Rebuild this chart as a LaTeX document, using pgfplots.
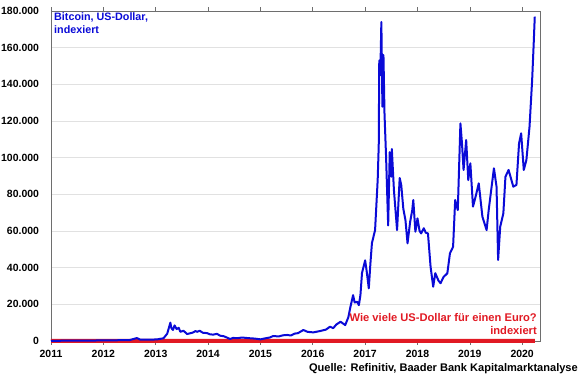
\documentclass[border=0pt]{standalone}
\usepackage{fontspec}
\setmainfont{Liberation Sans}
\usepackage{pgfplots}
\pgfplotsset{compat=1.18}
\definecolor{btcblue}{RGB}{10,10,215}
\definecolor{eurred}{RGB}{225,25,35}
\definecolor{gridgray}{RGB}{225,225,225}
\definecolor{boxgray}{RGB}{110,110,110}
\begin{document}
\begin{tikzpicture}
\path[use as bounding box] (-51bp,-34bp) rectangle (529bp,341bp);
\begin{axis}[
  scale only axis,
  width=489bp, height=330bp,
  xmin=2011, xmax=2020.34,
  ymin=0, ymax=180000,
  xtick={2011,2012,...,2020},
  ytick={0,20000,...,180000},
  scaled y ticks=false,
  clip=false,
  axis line style={boxgray, line width=0.8pt},
  ymajorgrids, grid style={gridgray, line width=0.8pt},
  tick align=outside,
  xtick style={boxgray, line width=0.6pt},
  major tick length=3.5bp,
  ytick style={draw=none},
  /pgf/number format/assume math mode=true,
  tick label style={font=\bfseries\fontsize{10.5}{12}\selectfont, text=black},
  yticklabel style={/pgf/number format/.cd, 1000 sep={.}, fixed, /tikz/xshift=-5bp},
  xticklabel style={/pgf/number format/1000 sep={}, yshift=-2bp},
]
\addplot[eurred, line width=4bp] coordinates {
(2011.00,100) (2011.5,105) (2012.0,95) (2012.5,90) (2013.0,92) (2013.5,95) (2014.0,97) (2014.5,96) (2015.0,85) (2015.5,81) (2016.0,80) (2016.5,81) (2017.0,77) (2017.5,84) (2018.0,88) (2018.5,85) (2019.0,83) (2019.5,82) (2020.0,80) (2020.24,80)
};
\addplot[btcblue, line width=2bp, line join=round] coordinates {
(2011.00,100) (2011.50,200) (2012.00,300) (2012.50,500) (2012.64,1600) (2012.70,800)
(2012.89,700) (2013.03,900) (2013.15,1500) (2013.22,4000) (2013.28,10000) (2013.30,7000)
(2013.33,6000) (2013.36,8500) (2013.40,6500) (2013.44,7200) (2013.47,5000) (2013.53,5600) (2013.60,3800) (2013.70,4500) (2013.76,5400) (2013.79,5000)
(2013.84,5600) (2013.90,4500) (2013.98,4300) (2014.04,3600) (2014.10,3500) (2014.17,3900) (2014.23,2900) (2014.30,2600) (2014.35,2000) (2014.42,1100)
(2014.48,1700) (2014.55,1500) (2014.65,1900) (2014.75,1600) (2014.90,1300) (2015.00,900) (2015.10,1500) (2015.18,1900) (2015.24,2700)
(2015.35,2500) (2015.43,3100) (2015.51,3300) (2015.58,3000) (2015.65,4000) (2015.72,4300) (2015.76,5000) (2015.82,6000) (2015.90,5000)
(2016.01,4700) (2016.15,5500) (2016.25,6200) (2016.33,7800) (2016.39,7000) (2016.45,9000) (2016.53,10500)
(2016.62,8700) (2016.68,13000) (2016.72,18700) (2016.77,25000) (2016.80,21000) (2016.85,21400) (2016.88,19500) (2016.91,25000) (2016.94,37000)
(2017.00,44000) (2017.03,38000) (2017.07,28700) (2017.10,42000) (2017.13,53400) (2017.19,60500) (2017.24,88000) (2017.26,106900)
(2017.27,153000) (2017.29,145000) (2017.31,174000) (2017.33,127800) (2017.35,156000) (2017.37,124000)
(2017.40,100500) (2017.44,63000) (2017.47,103000) (2017.50,89600) (2017.51,104700) (2017.55,82300)
(2017.61,60500) (2017.66,88900) (2017.69,85000) (2017.73,72000) (2017.77,66000) (2017.81,53300) (2017.86,65000)
(2017.90,71400) (2017.92,76900) (2017.96,59600) (2018.00,66900) (2018.04,60000) (2018.07,58700) (2018.12,61500)
(2018.16,59000) (2018.20,58700) (2018.25,40500) (2018.30,29600) (2018.34,37000) (2018.40,33000) (2018.44,31500)
(2018.50,35000) (2018.57,36900) (2018.62,47800) (2018.68,51400) (2018.72,76900) (2018.77,71400)
(2018.82,118700) (2018.85,107800) (2018.88,93300) (2018.93,109600) (2018.97,87800) (2019.01,96900)
(2019.06,73300) (2019.11,78700) (2019.17,86000) (2019.24,67800) (2019.32,60500) (2019.36,71400)
(2019.46,94200) (2019.51,84200) (2019.54,44200) (2019.58,62300) (2019.64,69600) (2019.68,89600)
(2019.74,93300) (2019.83,84200) (2019.89,85100) (2019.94,107800) (2019.98,113300) (2020.03,93300)
(2020.08,98700) (2020.14,116900) (2020.19,142300) (2020.22,162400) (2020.24,176900)
};
\node[anchor=north west, align=left, text=btcblue, font=\bfseries\fontsize{10.8}{13}\selectfont, inner sep=0pt]
  at (rel axis cs:0,1) [xshift=3bp, yshift=-2bp] {Bitcoin, US-Dollar,\\indexiert};
\node[anchor=south east, align=right, text=eurred, font=\bfseries\fontsize{11.2}{13.5}\selectfont, inner sep=0pt]
  at (rel axis cs:1,0) [xshift=-3bp, yshift=6bp] {Wie viele US-Dollar für einen Euro?\\indexiert};
\node[anchor=south east, text=black, font=\bfseries\fontsize{11.1}{13}\selectfont, inner sep=0pt]
  at (rel axis cs:1,0) [xshift=38bp, yshift=-33bp] {Quelle: Refinitiv, Baader Bank Kapitalmarktanalyse};
\end{axis}
\end{tikzpicture}
\end{document}
